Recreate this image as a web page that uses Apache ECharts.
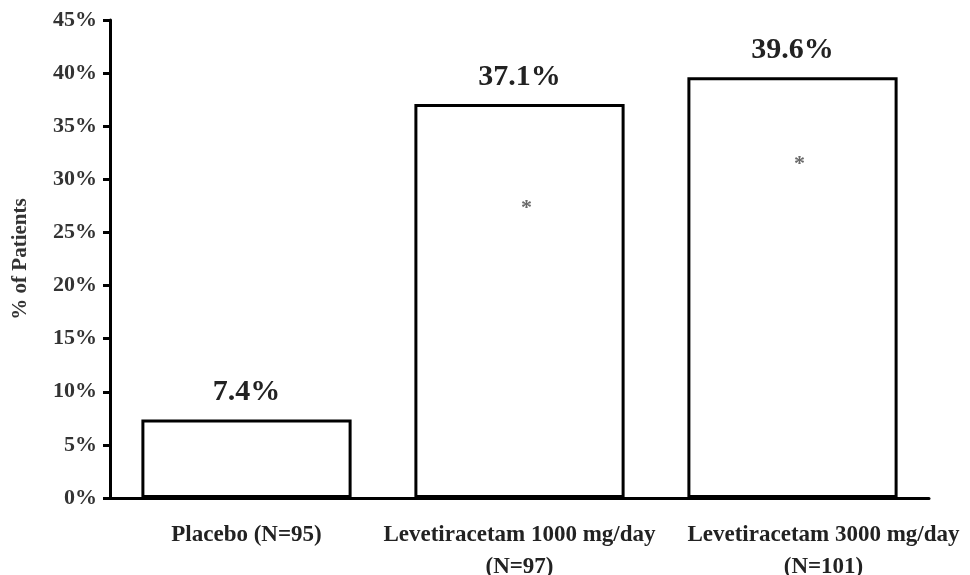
<!DOCTYPE html>
<html><head><meta charset="utf-8">
<script src="https://cdn.jsdelivr.net/npm/echarts@6/dist/echarts.min.js"></script>
<style>html,body{margin:0;padding:0;background:#fff}#c{width:970px;height:575px}</style>
</head><body><div id="c"></div>
<script>
const categories = ['Placebo (N=95)', 'Levetiracetam 1000 mg/day\n(N=97)', 'Levetiracetam 3000 mg/day\n(N=101)'];
const values = [7.4, 37.1, 39.6];
const starPositions = [null, 27.4, 31.5];
const yTicks = {min: 0, max: 45, interval: 5};
const serif = '"Liberation Serif","DejaVu Serif",serif';
const labelFont = {fontFamily: serif, fontWeight: 'bold', fontSize: 23, color: '#222', lineHeight: 32};
const chart = echarts.init(document.getElementById('c'));
chart.setOption({
  animation: false,
  grid: {left: 110, right: 41, top: 20, bottom: 77, containLabel: false, outerBoundsMode: 'none'},
  xAxis: {
    type: 'category', data: categories,
    axisLine: {lineStyle: {color: '#000', width: 3}},
    axisTick: {show: false},
    axisLabel: Object.assign({}, labelFont, {
      margin: 21, interval: 0,
      formatter: (v, i) => i === 2 ? v.split('\n').map(s => '{s|' + s + '}').join('\n') : v,
      rich: {s: Object.assign({}, labelFont, {padding: [0, 0, 0, 62]})}
    })
  },
  yAxis: {
    type: 'value', min: yTicks.min, max: yTicks.max, interval: yTicks.interval,
    name: '% of Patients', nameLocation: 'middle', nameGap: 79, nameRotate: 90,
    nameTextStyle: {fontFamily: serif, fontWeight: 'bold', fontSize: 21, color: '#333'},
    axisLine: {show: true, lineStyle: {color: '#000', width: 3}},
    axisTick: {show: true, length: 7, lineStyle: {color: '#000', width: 3}},
    splitLine: {show: false},
    axisLabel: {fontFamily: serif, fontWeight: 'bold', fontSize: 22, color: '#333', margin: 13, formatter: v => v + '%'}
  },
  series: [{
    type: 'bar', data: values, barWidth: '77%',
    itemStyle: {color: '#fff', borderColor: '#000', borderWidth: 3},
    label: {show: true, position: 'top', distance: 12, fontFamily: serif, fontWeight: 'bold', fontSize: 30, color: '#222', formatter: p => p.value.toFixed(1) + '%'}
  }, {
    type: 'scatter', data: starPositions, symbolSize: 0, silent: true,
    label: {show: true, position: 'inside', offset: [7, 1], formatter: '*', fontFamily: serif, fontWeight: 'bold', fontSize: 22, color: '#444'}
  }]
});
</script></body></html>
